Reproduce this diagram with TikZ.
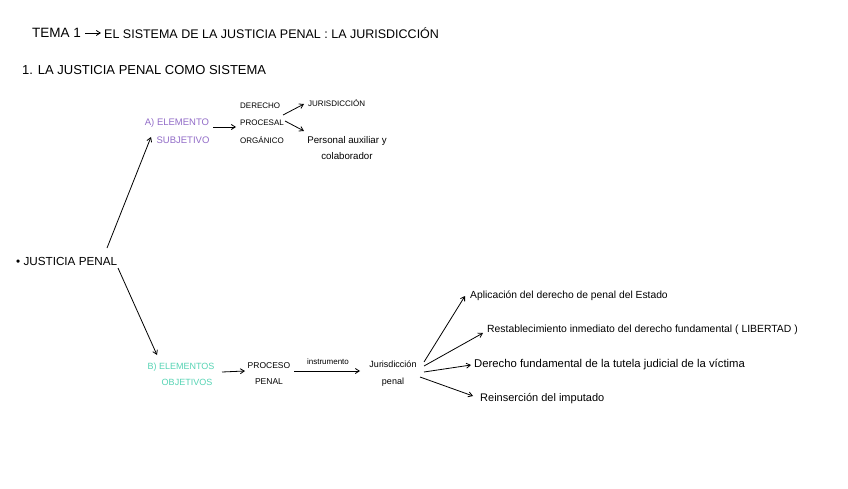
\documentclass[tikz,border=0pt]{standalone}
\usepackage{fontspec}
\setmainfont{Liberation Sans}
\usetikzlibrary{arrows.meta,calc}
\definecolor{purp}{RGB}{146,108,200}
\definecolor{teal2}{RGB}{86,212,180}
\tikzset{
  arr/.style={-{Straight Barb[length=4pt,width=5pt]},line width=0.8pt},
  lbl/.style={inner sep=0pt},
  fs/.style 2 args={font=\fontsize{#1}{#2}\selectfont},
}
\begin{document}
\begin{tikzpicture}[x=1pt,y=-1pt]
\useasboundingbox[fill=white] (0,0) rectangle (848,489);
\node[lbl,anchor=west,fs={13.5}{14}] (tema) at (32,33) {TEMA 1};
\node[lbl,anchor=west,fs={12.5}{14}] (title) at (104,33) {EL SISTEMA DE LA JUSTICIA PENAL : LA JURISDICCIÓN};
\node[lbl,anchor=west,fs={13}{14}] (sec) at (22,70) {1. LA JUSTICIA PENAL COMO SISTEMA};
\node[lbl,anchor=west,fs={11.7}{14}] (jp) at (16,261) {• JUSTICIA PENAL};
\node[lbl,align=center,text=purp,fs={9.5}{18}] (A) at (177,131) {A) ELEMENTO\\\hspace*{12pt}SUBJETIVO};
\node[lbl,align=left,fs={8}{17.5}] (dpo) at (262,123) {DERECHO\\PROCESAL\\ORGÁNICO};
\node[lbl,anchor=west,fs={8}{10}] (jur) at (308,103) {JURISDICCIÓN};
\node[lbl,align=center,fs={9.7}{16}] (pers) at (347,148) {Personal auxiliar y\\colaborador};
\node[lbl,align=center,text=teal2,fs={9}{16}] (B) at (181,374) {B) ELEMENTOS\\\hspace*{12pt}OBJETIVOS};
\node[lbl,align=center,fs={8.5}{16}] (pp) at (269,374) {PROCESO\\PENAL};
\node[lbl,align=center,fs={9}{17}] (jp2) at (393,374) {Jurisdicción\\penal};
\node[lbl,fs={8}{9}] (ins) at (328,362) {instrumento};
\node[lbl,anchor=west,fs={10.3}{12}] (t1) at (470,296) {Aplicación del derecho de penal del Estado};
\node[lbl,anchor=west,fs={10.4}{12}] (t2) at (487,330) {Restablecimiento inmediato del derecho fundamental ( LIBERTAD )};
\node[lbl,anchor=west,fs={11.3}{13}] (t3) at (474,365) {Derecho fundamental de la tutela judicial de la víctima};
\node[lbl,anchor=west,fs={11}{13}] (t4) at (480,399) {Reinserción del imputado};
\draw[arr] ($(tema.east)+(4,0)$) -- ($(title.west)+(-3,0)$);
\draw[arr] ($(jp.west)+(91,-13)$) -- ($(A.center)+(-26,6)$);
\draw[arr] ($(jp.west)+(102,7)$) -- ($(B.center)+(-24,-19)$);
\draw[arr] ($(A.center)+(36,-4)$) -- ($(dpo.center)+(-26,4)$);
\draw[arr] ($(dpo.center)+(21,-8)$) -- ($(jur.west)+(-4,1)$);
\draw[arr] ($(dpo.center)+(23,-2)$) -- ($(pers.center)+(-43,-17)$);
\draw[arr] ($(B.center)+(41,-2)$) -- ($(pp.center)+(-24,-3)$);
\draw[arr] ($(pp.center)+(25,-3)$) -- ($(jp2.center)+(-33,-3)$);
\draw[arr] ($(jp2.center)+(31,-12)$) -- ($(t1.west)+(-5,0)$);
\draw[arr] ($(jp2.center)+(31,-8)$) -- ($(t2.west)+(-4,3)$);
\draw[arr] ($(jp2.center)+(31,-2)$) -- ($(t3.west)+(-3,0)$);
\draw[arr] ($(jp2.center)+(27,3)$) -- ($(t4.west)+(-7,-3)$);
\end{tikzpicture}
\end{document}
